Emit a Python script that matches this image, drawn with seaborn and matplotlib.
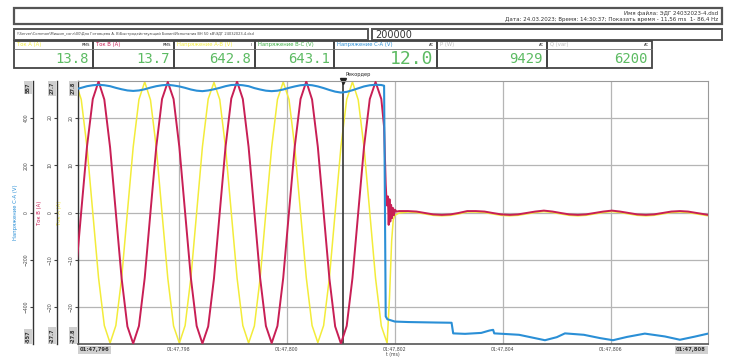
import numpy as np
import pandas as pd
import seaborn as sns
import matplotlib.pyplot as plt
from matplotlib.patches import Rectangle

sns.set_style("white")
plt.rcParams['font.family'] = ['DejaVu Sans']

# ---- data ----
t_start, t_end = 796.13, 807.80          # ms, visible window
grid_times = [798, 800, 802, 804, 806]
grid_labels = ["01:47,798", "01:47,800", "01:47,802", "01:47,804", "01:47,806"]
left_label, right_label = "01:47,796", "01:47,808"
recorder_t = 801.04

# pre-fault samples, recorder clock
sample_t0 = 796.083
sample_dt = 0.1069

tok_b_pre = [-13.8, 0.2, 13.9, 23.9, 27.6, 23.8, 13.7, -0.1, -13.9, -24.0, -27.6, -23.9,
             -13.8, 0.1, 13.8, 23.9, 27.5, 23.9, 13.8, 0.0, -13.8, -23.9, -27.6, -24.0,
             -13.9, 0.0, 13.8, 24.0, 27.6, 23.9, 13.8, 0.1, -13.8, -23.9, -27.5, -23.9,
             -13.8, 0.1, 13.9, 23.9, 27.6, 23.8, 13.8, 0.0, -13.9, -24.0, -27.6, -23.9,
             -13.8, 0.0, 13.8, 23.9, 27.5, 23.9]
tok_a_pre = [27.6, 23.9, 13.8, 0.0, -13.8, -23.9, -27.6, -23.9, -13.9, 0.1, 13.8, 23.9,
             27.6, 23.8, 13.8, -0.1, -13.9, -24.0, -27.6, -23.9, -13.8, 0.0, 13.9, 24.0,
             27.5, 23.9, 13.8, 0.0, -13.8, -23.9, -27.6, -24.0, -13.9, 0.1, 13.8, 23.9,
             27.6, 23.9, 13.8, 0.0, -13.8, -23.9, -27.5, -23.9, -13.8, 0.0, 13.9, 23.9,
             27.6, 23.8, 13.8, 0.0, -13.9, -24.0]
u_ca_pre = [522, 528, 535, 539, 541, 539, 535, 528, 522, 517, 515, 517,
            522, 529, 535, 539, 541, 538, 534, 528, 521, 516, 514, 517,
            522, 528, 535, 540, 541, 539, 535, 527, 521, 516, 514, 516,
            521, 528, 534, 539, 541, 539, 534, 527, 519, 512, 508, 511,
            518, 526, 534, 539, 541, 540]

# post-fault traces
tok_b_post_t = [801.80, 801.83, 801.85, 801.87, 801.885, 801.90, 801.915, 801.93, 801.945,
                801.96, 801.98, 802.00, 802.03, 802.08, 802.24, 802.40, 802.555, 802.71,
                802.87, 803.03, 803.18, 803.34, 803.50, 803.66, 803.81, 803.97, 804.13,
                804.28, 804.44, 804.60, 804.76, 804.92, 805.07, 805.23, 805.39, 805.54,
                805.70, 805.86, 806.02, 806.17, 806.33, 806.49, 806.65, 806.80, 806.96,
                807.12, 807.28, 807.43, 807.59, 807.75, 807.80]
tok_b_post = [18.0, 6.0, 1.5, 3.4, -2.6, 2.8, -1.9, 1.6, -1.2,
              1.0, -0.6, 0.6, 0.2, 0.3, 0.3, 0.2, -0.1, -0.4,
              -0.5, -0.4, -0.1, 0.3, 0.3, 0.2, -0.1, -0.4, -0.5,
              -0.4, -0.1, 0.2, 0.4, 0.2, -0.1, -0.4, -0.5, -0.4,
              -0.1, 0.2, 0.4, 0.2, -0.1, -0.4, -0.5, -0.4, -0.1,
              0.2, 0.3, 0.2, -0.1, -0.4, -0.5]
tok_a_post_t = [801.856, 801.90, 801.94, 801.97, 802.00, 802.08, 802.24, 802.40, 802.555,
                802.71, 802.87, 803.03, 803.18, 803.34, 803.50, 803.66, 803.81, 803.97,
                804.13, 804.28, 804.44, 804.60, 804.76, 804.92, 805.07, 805.23, 805.39,
                805.54, 805.70, 805.86, 806.02, 806.17, 806.33, 806.49, 806.65, 806.80,
                806.96, 807.12, 807.28, 807.43, 807.59, 807.75, 807.80]
tok_a_post = [-27.6, -18.0, -6.0, -1.5, -0.6, -0.1, 0.1, 0.0, -0.3,
              -0.6, -0.7, -0.6, -0.3, 0.1, 0.1, 0.0, -0.3, -0.6,
              -0.7, -0.6, -0.3, 0.0, 0.2, 0.0, -0.3, -0.6, -0.7,
              -0.6, -0.3, 0.0, 0.2, 0.0, -0.3, -0.6, -0.7, -0.6,
              -0.3, 0.0, 0.1, 0.0, -0.3, -0.6, -0.7]
u_ca_post_t = [801.80, 801.83, 801.86, 802.00, 802.25, 802.50, 802.75, 803.05, 803.08,
               803.30, 803.60, 803.75, 803.82, 803.84, 804.00, 804.30, 804.55, 804.78,
               805.00, 805.15, 805.50, 805.80, 806.04, 806.30, 806.63, 807.00, 807.28,
               807.55, 807.80]
u_ca_post = [537, -440, -452, -462, -464, -465, -466, -467, -512,
             -514, -510, -500, -497, -512, -514, -518, -530, -541,
             -528, -512, -518, -532, -541, -527, -513, -525, -539,
             -526, -513]

# header readouts
meas_names = ["Ток A (A)", "Ток B (A)", "Напряжение A-B (V)", "Напряжение B-C (V)",
              "Напряжение C-A (V)", "P (W)", "Q (var)"]
meas_modes = ["RMS", "RMS", "I", "", "AC", "AC", "AC"]
meas_values = ["13.8", "13.7", "642.8", "643.1", "12.0", "9429", "6200"]

# ---- styling ----
YEL, RED, BLU = "#f3ec3a", "#c81f55", "#2a8fd6"
meas_colors = [YEL, RED, YEL, "#3cb043", BLU, "#bbbbbb", "#bbbbbb"]
box_edges = [14, 93, 174, 255, 334, 437, 547, 652]
VAL = "#5dbb63"

fig = plt.figure(figsize=(7.35, 3.6), dpi=100)

# pixel frame for the header panel
fr = fig.add_axes([0, 0, 1, 1])
fr.set_xlim(0, 735)
fr.set_ylim(360, 0)
fr.axis("off")

fr.add_patch(Rectangle((14, 8), 708, 16, fill=False, ec="#555555", lw=1.6))
fr.text(718, 13, "Имя файла: ЭДГ 24032023-4.dsd", ha="right", va="center", fontsize=4, color="#333333")
fr.text(718, 19, "Дата: 24.03.2023; Время: 14:30:37; Показать время - 11,56 ms  1- 86,4 Hz",
        ha="right", va="center", fontsize=4, color="#333333")
fr.add_patch(Rectangle((14, 29), 354, 11, fill=False, ec="#555555", lw=1.4))
fr.text(17, 34.5, r"\\Server\Common\Мишин_согл\00\Для Готовцева А. В\Быстродействующий Билин\Испытания ВН 50 кВ\ЭДГ 24032023-4.dsd",
        ha="left", va="center", fontsize=2.6, color="#444444")
fr.add_patch(Rectangle((372, 29), 350, 11, fill=False, ec="#555555", lw=1.4))
fr.text(375, 34.8, "200000", ha="left", va="center", fontsize=7, color="#333333")

for i, name in enumerate(meas_names):
    x0, x1 = box_edges[i], box_edges[i + 1]
    fr.add_patch(Rectangle((x0, 41), x1 - x0, 27, fill=False, ec="#444444", lw=1.3))
    fr.plot([x0, x1], [48.5, 48.5], color="#777777", lw=0.6)
    fr.text(x0 + 3, 44.8, name, ha="left", va="center", fontsize=3.8, color=meas_colors[i])
    fr.text(x1 - 3, 44.5, meas_modes[i], ha="right", va="center", fontsize=2.8, color="#222222")
    size = 13 if i == 4 else 10
    fr.text(x1 - 4, 59, meas_values[i], ha="right", va="center", fontsize=size,
            family="DejaVu Sans Mono", color=VAL)

# ---- main chart ----
ax = fig.add_axes([78 / 735, 16 / 360, 630 / 735, 263 / 360])
ax_b = ax.twinx()
ax_u = ax.twinx()

k = np.arange(len(tok_b_pre))
t_pre = sample_t0 + sample_dt * k
df_a = pd.DataFrame({"t": np.concatenate([t_pre, tok_a_post_t]), "v": tok_a_pre + tok_a_post})
df_b = pd.DataFrame({"t": np.concatenate([t_pre, tok_b_post_t]), "v": tok_b_pre + tok_b_post})
df_u = pd.DataFrame({"t": np.concatenate([t_pre, u_ca_post_t]), "v": u_ca_pre + u_ca_post})

sns.lineplot(data=df_a, x="t", y="v", ax=ax, color=YEL, lw=1.1, estimator=None, sort=False)
sns.lineplot(data=df_b, x="t", y="v", ax=ax_b, color=RED, lw=1.4, estimator=None, sort=False)
sns.lineplot(data=df_u, x="t", y="v", ax=ax_u, color=BLU, lw=1.5, estimator=None, sort=False)

ax.set_xlim(t_start, t_end)
ax.set_ylim(-27.8, 27.8)
ax_b.set_ylim(-27.7, 27.7)
ax_u.set_ylim(-557, 557)

ax.set_yticks([-20, -10, 0, 10, 20])
ax_b.set_yticks([-20, -10, 0, 10, 20])
ax_u.set_yticks([-400, -200, 0, 200, 400])
ax.set_xticks(grid_times)
ax.set_xticklabels(grid_labels)
ax.grid(True, color="#b5b5b5", lw=0.9)
ax.tick_params(axis="x", length=0, labelsize=3.3, pad=2, colors="#444444")

for a, off, lab, col, top in [(ax, 0, "Ток A (A)", YEL, "27.8"),
                              (ax_b, 15.1, "Ток B (A)", RED, "27.7"),
                              (ax_u, 32.4, "Напряжение C-A (V)", BLU, "557")]:
    a.yaxis.set_ticks_position("left")
    a.yaxis.set_label_position("left")
    a.spines["left"].set_visible(True)
    a.spines["left"].set_position(("outward", off))
    a.spines["left"].set_color("#333333")
    a.spines["left"].set_linewidth(1.0)
    a.tick_params(axis="y", labelrotation=90, labelsize=3.3, length=2, pad=1, colors="#444444")
    for lbl in a.get_yticklabels():
        lbl.set_va("center")
    a.set_ylabel(lab, color=col, fontsize=3.8, labelpad=4)
    if a is not ax:
        a.spines["right"].set_visible(False)
        a.spines["top"].set_visible(False)
        a.spines["bottom"].set_visible(False)
    bb = dict(boxstyle="square,pad=0.25", fc="#cfcfcf", ec="none")
    a.annotate(top, xy=(0, 1), xycoords="axes fraction", xytext=(-off * 100 / 72 - 5, -1),
               textcoords="offset pixels", rotation=90, ha="center", va="top",
               fontsize=3.6, fontweight="bold", color="#333333", bbox=bb)
    a.annotate("-" + top, xy=(0, 0), xycoords="axes fraction", xytext=(-off * 100 / 72 - 5, 1),
               textcoords="offset pixels", rotation=90, ha="center", va="bottom",
               fontsize=3.6, fontweight="bold", color="#333333", bbox=bb)

ax.spines["top"].set_color("#999999")
ax.spines["right"].set_color("#999999")
ax.spines["bottom"].set_color("#555555")
ax.spines["bottom"].set_linewidth(1.2)
ax.set_ylabel("Ток A (A)", color=YEL, fontsize=3.8, labelpad=5)
ax.set_xlabel("t (ms)", fontsize=3.3, labelpad=0, color="#444444")

# recorder cursor
ax.axvline(recorder_t, color="#333333", lw=1.2)
ax.plot([recorder_t], [27.8], marker="v", color="#222222", ms=4, clip_on=False)
ax.annotate("Рекордер", xy=(recorder_t, 27.8), xytext=(2, 4), textcoords="offset pixels",
            ha="left", va="bottom", fontsize=3.6, color="#222222")

bbx = dict(boxstyle="square,pad=0.3", fc="#d0d0d0", ec="none")
ax.annotate(left_label, xy=(0, 0), xycoords="axes fraction", xytext=(2, -6),
            textcoords="offset pixels", ha="left", va="center", fontsize=3.8,
            fontweight="bold", color="#333333", bbox=bbx)
ax.annotate(right_label, xy=(1, 0), xycoords="axes fraction", xytext=(-2, -6),
            textcoords="offset pixels", ha="right", va="center", fontsize=3.8,
            fontweight="bold", color="#333333", bbox=bbx)

fig.savefig("out.png", dpi=100)
